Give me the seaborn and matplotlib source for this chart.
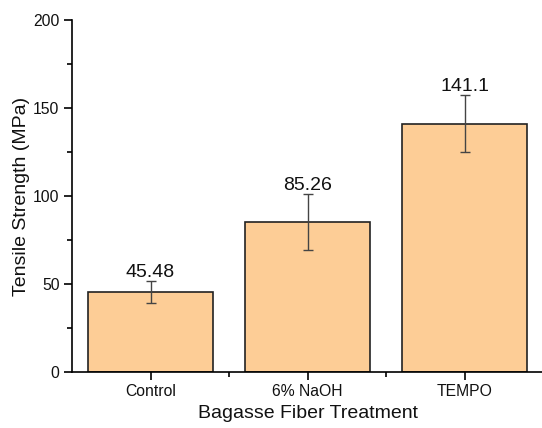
import matplotlib
matplotlib.use("Agg")
import matplotlib.pyplot as plt
from matplotlib.ticker import MultipleLocator, FixedLocator
import seaborn as sns
import pandas as pd

treatments = ["Control", "6% NaOH", "TEMPO"]
strength = [45.48, 85.26, 141.1]
strength_err = [6.2, 15.9, 16.3]
value_labels = ["45.48", "85.26", "141.1"]

df = pd.DataFrame({"treatment": treatments, "strength": strength})

sns.set_theme(style="ticks")
plt.rcParams['font.family'] = ['Liberation Sans', 'DejaVu Sans']

fig = plt.figure(figsize=(5.42, 4.28), dpi=100)
ax = fig.add_axes([72/542, 56/428, 471/542, 352/428])

sns.barplot(x="treatment", y="strength", data=df, ax=ax, color="#FDCD96",
            saturation=1, width=0.8, edgecolor="#222222", linewidth=1.2,
            errorbar=None)
ax.errorbar(range(len(treatments)), strength, yerr=strength_err, fmt="none",
            ecolor="#444444", elinewidth=1, capsize=3.5, capthick=1)

for i, (v, e, t) in enumerate(zip(strength, strength_err, value_labels)):
    ax.annotate(t, (i, v + e), xytext=(0, 0), textcoords="offset points",
                ha="center", va="bottom", fontsize=14, color="#111111")

ax.set_xlim(-0.5, 2.5)
ax.set_ylim(0, 200)
ax.yaxis.set_major_locator(MultipleLocator(50))
ax.yaxis.set_minor_locator(MultipleLocator(25))
ax.xaxis.set_minor_locator(FixedLocator([0.5, 1.5]))

for s in ["top", "right"]:
    ax.spines[s].set_visible(False)
for s in ["left", "bottom"]:
    ax.spines[s].set_linewidth(1.2)
    ax.spines[s].set_color("black")

ax.tick_params(which="major", length=6, width=1.2, labelsize=11.3, color="black",
               labelcolor="#111111", pad=3)
ax.tick_params(which="minor", length=3.5, width=1.2, color="black")

ax.set_xlabel("Bagasse Fiber Treatment", fontsize=14, labelpad=4, color="#111111")
ax.set_ylabel("Tensile Strength (MPa)", fontsize=14, labelpad=2, color="#111111")

plt.savefig("out.png", dpi=100)
plt.close()
